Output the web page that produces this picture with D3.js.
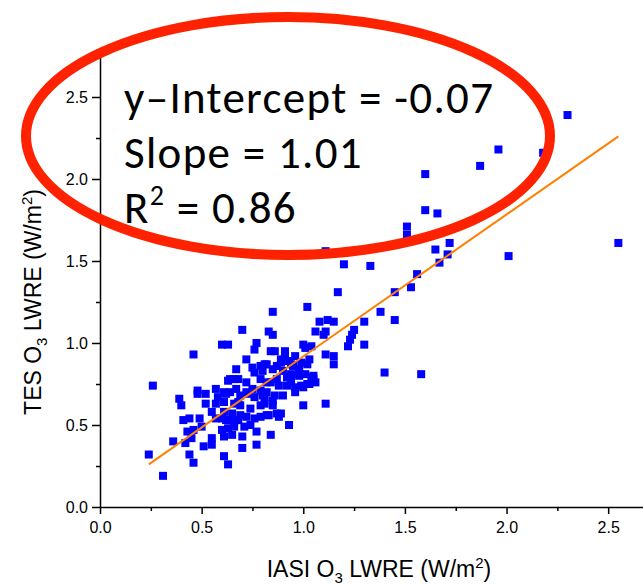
<!DOCTYPE html>
<html>
<head>
<meta charset="utf-8">
<script src="https://cdn.jsdelivr.net/npm/d3@7"></script>
<style>
  body { margin: 0; background: #fff; }
  .axis text { font-family: "Liberation Sans", Arial, sans-serif; font-size: 16px; fill: #000; }
  .axis path, .axis line { stroke: #000; stroke-width: 1.5; }
  .title { font-family: "Liberation Sans", Arial, sans-serif; font-size: 23px; fill: #000; }
  .note { font-family: Carlito, Lato, sans-serif; font-size: 45px; letter-spacing: 1.3px; fill: #000; }
</style>
</head>
<body>
<div id="chart"></div>
<script>
// constants
const W = 643, H = 586;
const margin = { top: 56, left: 100 },
    plotW = 559,
    plotH = 451;

// data: IASI (x) vs TES (y) O3 LWRE, W/m2
const iasi = [
  2.30, 1.96, 2.18, 1.87, 1.60, 1.60, 1.66, 1.51, 1.51, 1.72, 1.65, 1.71, 1.11, 1.20, 1.33, 2.01, 2.55, 1.67, 1.56, 1.17,
  1.53, 1.45, 1.02, 1.38, 1.45, 1.30, 1.08, 1.12, 1.15, 1.06, 1.11, 1.10, 1.25, 1.24, 1.23, 1.22, 1.30, 1.00, 1.04, 1.01,
  1.11, 1.15, 1.15, 1.03, 1.02, 0.99, 1.05, 1.40, 1.58, 1.02, 0.85, 0.83, 0.85, 0.84, 0.86, 0.91, 0.91, 0.96, 0.81, 0.80,
  0.89, 0.93, 0.95, 0.98, 0.98, 0.94, 0.90, 1.05, 1.06, 0.99, 0.87, 0.92, 0.94, 0.88, 0.82, 0.96, 0.86, 0.81, 0.85, 1.00,
  1.11, 0.82, 0.88, 0.89, 0.93, 0.84, 0.70, 0.60, 0.63, 0.77, 0.76, 0.46, 0.72, 0.67, 0.75, 0.76, 0.82, 0.26, 0.63, 0.68,
  0.72, 0.79, 0.48, 0.52, 0.48, 0.57, 0.58, 0.62, 0.64, 0.69, 0.73, 0.76, 0.80, 0.39, 0.40, 0.52, 0.57, 0.61, 0.66, 0.69,
  0.74, 0.79, 0.55, 0.61, 0.65, 0.69, 0.72, 0.76, 0.41, 0.44, 0.49, 0.57, 0.62, 0.66, 0.71, 0.74, 0.50, 0.43, 0.46, 0.45,
  0.42, 0.60, 0.61, 0.65, 0.63, 0.77, 0.77, 0.36, 0.55, 0.51, 0.55, 0.70, 0.24, 0.44, 0.61, 0.63, 0.46, 0.31, 0.66, 0.64,
  0.75, 0.79, 0.82, 0.61, 0.67, 0.72, 0.90, 0.85, 0.81, 0.68, 0.60, 0.64, 0.68, 0.79, 0.83, 0.87, 0.66, 0.70, 0.84, 0.92,
  0.96, 1.00, 1.03, 0.94, 0.98, 1.01, 1.04, 0.79, 0.85, 0.87, 0.89, 0.94
];
const tes = [
  2.39, 2.18, 2.16, 2.08, 2.03, 1.81, 1.79, 1.71, 1.66, 1.61, 1.57, 1.54, 1.56, 1.48, 1.47, 1.53, 1.61, 1.49, 1.42, 1.31,
  1.34, 1.31, 1.22, 1.19, 1.14, 1.13, 1.13, 1.14, 1.13, 1.07, 1.07, 1.05, 1.08, 1.05, 1.02, 0.98, 0.99, 0.99, 0.98, 0.97,
  0.93, 0.92, 0.87, 0.90, 0.87, 0.88, 0.78, 0.82, 0.81, 0.75, 1.19, 1.07, 1.05, 0.95, 0.95, 0.95, 0.92, 0.92, 0.87, 0.83,
  0.88, 0.89, 0.86, 0.84, 0.81, 0.81, 0.83, 0.80, 0.76, 0.74, 0.78, 0.79, 0.76, 0.74, 0.76, 0.70, 0.68, 0.67, 0.65, 0.62,
  0.63, 0.56, 0.55, 0.57, 0.50, 0.44, 1.08, 0.99, 0.99, 1.00, 0.96, 0.93, 0.90, 0.84, 0.85, 0.82, 0.87, 0.74, 0.77, 0.78,
  0.76, 0.78, 0.71, 0.69, 0.69, 0.72, 0.67, 0.69, 0.70, 0.68, 0.69, 0.67, 0.68, 0.66, 0.62, 0.63, 0.63, 0.64, 0.63, 0.62,
  0.60, 0.62, 0.58, 0.58, 0.57, 0.56, 0.55, 0.54, 0.53, 0.54, 0.54, 0.54, 0.53, 0.52, 0.49, 0.50, 0.49, 0.46, 0.47, 0.42,
  0.39, 0.47, 0.43, 0.44, 0.48, 0.46, 0.38, 0.40, 0.42, 0.37, 0.38, 0.36, 0.32, 0.32, 0.31, 0.26, 0.27, 0.19, 0.78, 0.78,
  0.72, 0.71, 0.70, 0.70, 0.72, 0.70, 0.68, 0.62, 0.63, 0.64, 0.54, 0.53, 0.53, 0.55, 0.56, 0.57, 0.49, 0.43, 0.76, 0.74,
  0.73, 0.73, 0.75, 0.80, 0.80, 0.81, 0.79, 0.86, 0.84, 0.86, 0.90, 0.87
];

// fitted line as drawn (end points)
const fitX = [0.24, 2.55];
const fitY = [0.26, 2.26];

const statLines = ["y\u2013Intercept = -0.07", "Slope = 1.01", "R|2| = 0.86"];

const xTicks = [0, 0.5, 1.0, 1.5, 2.0, 2.5];
const xMinor = [0.25, 0.75, 1.25, 1.75, 2.25];
const yTicks = [0, 0.5, 1.0, 1.5, 2.0, 2.5];
const yMinor = [0.25, 0.75, 1.25, 1.75, 2.25];

const points = iasi.map((d, i) => ({ x: d, y: tes[i] }));

const svg = d3.select("#chart")
    .append("svg")
    .attr("width", W)
    .attr("height", H);

const xScale = d3.scaleLinear()
    .domain([0, 2.75])
    .range([margin.left, margin.left + plotW]);
const yScale = d3.scaleLinear()
    .domain([0, 2.75])
    .range([margin.top + plotH, margin.top]);

const fmt = d3.format(".1f");

// axes
svg.append("g")
    .attr("class", "axis")
    .attr("transform", `translate(0,${margin.top + plotH})`)
    .call(d3.axisBottom(xScale).tickValues(xTicks).tickFormat(fmt).tickSize(7).tickSizeOuter(0).tickPadding(8));
svg.append("g")
    .attr("class", "axis")
    .attr("transform", `translate(0,${margin.top + plotH})`)
    .call(d3.axisBottom(xScale).tickValues(xMinor).tickFormat("").tickSize(4).tickSizeOuter(0))
    .call(g => g.select(".domain").remove());

svg.append("g")
    .attr("class", "axis")
    .attr("transform", `translate(${margin.left},0)`)
    .call(d3.axisLeft(yScale).tickValues(yTicks).tickFormat(fmt).tickSize(8).tickSizeOuter(0).tickPadding(4));
svg.append("g")
    .attr("class", "axis")
    .attr("transform", `translate(${margin.left},0)`)
    .call(d3.axisLeft(yScale).tickValues(yMinor).tickFormat("").tickSize(4).tickSizeOuter(0))
    .call(g => g.select(".domain").remove());

// axis titles
const xt = svg.append("text")
    .attr("class", "title")
    .attr("x", 379)
    .attr("y", 577)
    .attr("text-anchor", "middle");
xt.append("tspan").text("IASI O");
xt.append("tspan").attr("font-size", "15px").attr("dy", 6).text("3");
xt.append("tspan").attr("dy", -6).text(" LWRE (W/m");
xt.append("tspan").attr("font-size", "15px").attr("dy", -9).text("2");
xt.append("tspan").attr("dy", 9).text(")");

const yt = svg.append("text")
    .attr("class", "title")
    .attr("transform", "translate(41,302) rotate(-90)")
    .attr("text-anchor", "middle");
yt.append("tspan").text("TES O");
yt.append("tspan").attr("font-size", "15px").attr("dy", 6).text("3");
yt.append("tspan").attr("dy", -6).text(" LWRE (W/m");
yt.append("tspan").attr("font-size", "15px").attr("dy", -9).text("2");
yt.append("tspan").attr("dy", 9).text(")");

// points
svg.selectAll(".dot")
    .data(points)
    .join("rect")
    .attr("class", "dot")
    .attr("x", d => xScale(d.x) - 4)
    .attr("y", d => yScale(d.y) - 4)
    .attr("width", 8)
    .attr("height", 8)
    .attr("fill", "#0000ff");

// fit line
const lineFunc = d3.line()
    .x(d => xScale(d[0]))
    .y(d => yScale(d[1]));
svg.append("path")
    .datum(fitX.map((d, i) => [d, fitY[i]]))
    .attr("d", lineFunc)
    .attr("fill", "none")
    .attr("stroke", "#ff8000")
    .attr("stroke-width", 2);

// red ellipse annotation
svg.append("ellipse")
    .attr("cx", 288)
    .attr("cy", 136)
    .attr("rx", 262)
    .attr("ry", 119)
    .attr("fill", "none")
    .attr("stroke", "#ff2200")
    .attr("stroke-width", 10);

const baselines = [113, 168, 223];
statLines.forEach((s, i) => {
    const t = svg.append("text")
        .attr("class", "note")
        .attr("x", 124)
        .attr("y", baselines[i]);
    const parts = s.split("|");
    t.append("tspan").text(parts[0]);
    if (parts.length > 1) {
        t.append("tspan").attr("font-size", "28px").attr("dy", -18).text(parts[1]);
        t.append("tspan").attr("dy", 18).text(parts[2]);
    }
});
</script>
</body>
</html>
